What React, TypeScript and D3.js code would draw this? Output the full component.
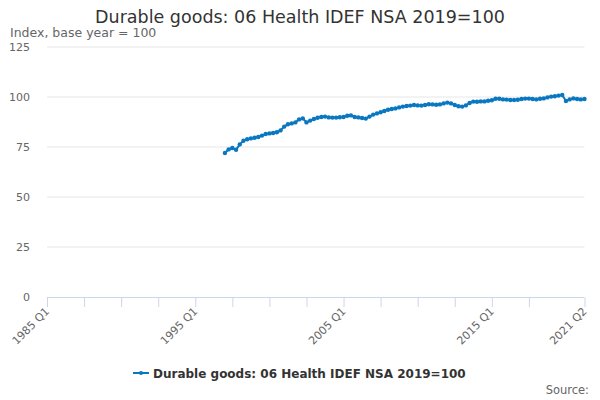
import * as d3 from "d3";

// quarterly index, 1997 Q1 → 2021 Q2
const firstYear = 1985;
const lastYear = 2021;
const lastQuarter = 2;
const seriesStart = "1997 Q1";
const seriesName = "Durable goods: 06 Health IDEF NSA 2019=100";
const seriesValues = [
  72.0, 73.8, 74.5, 73.6, 76.3, 78.1, 78.9, 79.3, 79.6, 80.0,
  80.7, 81.5, 81.8, 82.0, 82.4, 83.3, 85.2, 86.4, 86.8, 87.3,
  88.8, 89.3, 87.3, 88.2, 89.0, 89.6, 90.0, 90.2, 89.8, 89.7,
  89.7, 89.9, 90.0, 90.6, 90.8, 90.0, 89.8, 89.5, 89.2, 90.2,
  91.2, 91.8, 92.4, 93.0, 93.6, 94.0, 94.3, 94.8, 95.2, 95.5,
  95.7, 96.0, 95.8, 95.7, 96.0, 96.4, 96.3, 96.1, 96.3, 96.8,
  97.2, 96.8, 96.0, 95.4, 95.2, 95.8, 97.0, 97.7, 97.6, 97.8,
  97.8, 98.1, 98.4, 99.1, 99.1, 98.8, 98.7, 98.5, 98.5, 98.6,
  99.0, 99.2, 99.2, 99.0, 98.8, 99.1, 99.3, 99.8, 100.2, 100.4,
  100.7, 101.0, 98.0, 98.8, 99.3, 99.0, 98.8, 99.0,
];
const yTicks = [0, 25, 50, 75, 100, 125];
const xLabelTicks = ["1985 Q1", "1995 Q1", "2005 Q1", "2015 Q1", "2021 Q2"];

const categories: string[] = [];
for (let y = firstYear; y <= lastYear; y++)
  for (let q = 1; q <= 4; q++) {
    if (y === lastYear && q > lastQuarter) break;
    categories.push(`${y} Q${q}`);
  }

const W = 600;
const H = 400;
const FONT = "'DejaVu Sans', sans-serif";
const BLUE = "#0a77c1";

export default function App() {
  const x = d3.scalePoint<string>().domain(categories).range([47, 584.5]);
  const y = d3.scaleLinear().domain([0, 125]).range([297, 47]);

  const startIdx = categories.indexOf(seriesStart);
  const points = seriesValues.map((v, i) => ({ cat: categories[startIdx + i], v }));
  const line = d3
    .line<{ cat: string; v: number }>()
    .x((d) => x(d.cat) ?? 0)
    .y((d) => y(d.v));

  // minor ticks every 10 quarters, plus the final category
  const tickCats = categories.filter((_, i) => i % 10 === 0 && i <= 130);
  tickCats.push(categories[categories.length - 1]);

  return (
    <svg
      width={W}
      height={H}
      style={{ position: "absolute", left: 0, top: 0, background: "#fff" }}
      fontFamily={FONT}
    >
      <text x={W / 2} y={23} textAnchor="middle" fontSize={17.5} fill="#333">
        {seriesName}
      </text>
      <text x={10} y={37} fontSize={12.5} fill="#666">
        Index, base year = 100
      </text>

      {yTicks.map((t) => (
        <g key={t}>
          {t > 0 && (
            <line x1={47} x2={584.5} y1={y(t)} y2={y(t)} stroke="#e6e6e6" strokeWidth={1} />
          )}
          <text x={30} y={y(t) + 4} textAnchor="end" fontSize={11} fill="#666">
            {t}
          </text>
        </g>
      ))}

      <line x1={47} x2={584.5} y1={297.5} y2={297.5} stroke="#ccd6eb" strokeWidth={1} />
      {tickCats.map((c) => (
        <line
          key={c}
          x1={(x(c) ?? 0) + 0.5}
          x2={(x(c) ?? 0) + 0.5}
          y1={297.5}
          y2={307}
          stroke="#ccd6eb"
          strokeWidth={1}
        />
      ))}
      {xLabelTicks.map((c) => (
        <text
          key={c}
          transform={`translate(${(x(c) ?? 0) + 3},${312}) rotate(-45)`}
          textAnchor="end"
          fontSize={11}
          fill="#666"
        >
          {c}
        </text>
      ))}

      <path d={line(points) ?? ""} fill="none" stroke={BLUE} strokeWidth={2} />
      {points.map((p) => (
        <circle key={p.cat} cx={x(p.cat)} cy={y(p.v)} r={2.2} fill={BLUE} />
      ))}

      <g>
        <line x1={133} x2={149} y1={373} y2={373} stroke={BLUE} strokeWidth={2} />
        <circle cx={141} cy={373} r={2} fill={BLUE} />
        <text x={153} y={377.5} fontSize={12} fontWeight="bold" fill="#333">
          {seriesName}
        </text>
      </g>
      <text x={589} y={394} textAnchor="end" fontSize={11.5} fill="#666">
        Source:
      </text>
    </svg>
  );
}
